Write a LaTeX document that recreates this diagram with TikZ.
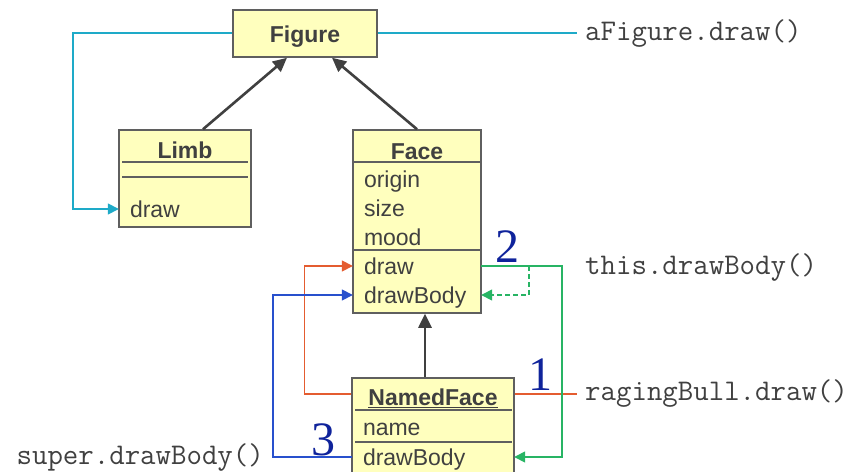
\documentclass[tikz,border=0pt]{standalone}
\usepackage{fontspec}
\setmainfont{Liberation Sans}
\newfontfamily\numf{Liberation Serif}
\usetikzlibrary{arrows.meta,calc}
\definecolor{boxfill}{RGB}{255,255,190}
\definecolor{boxline}{RGB}{95,95,95}
\definecolor{txt}{RGB}{64,64,64}
\definecolor{ccyan}{RGB}{30,170,200}
\definecolor{corange}{RGB}{228,92,48}
\definecolor{cgreen}{RGB}{40,180,100}
\definecolor{cblue}{RGB}{40,80,205}
\definecolor{numblue}{RGB}{15,35,155}
\tikzset{
  box/.style={draw=boxline, fill=boxfill, line width=1.5pt, inner sep=0pt},
  ttl/.style={font=\fontsize{23}{27}\selectfont\bfseries, text=txt, inner sep=0pt, text height=16.5pt, text depth=0pt},
  fld/.style={font=\fontsize{23}{27}\selectfont, text=txt, inner xsep=11pt, inner ysep=0pt, text height=16.5pt, text depth=0pt, align=left},
  sepline/.style={draw=boxline, line width=1.4pt},
  code/.style={font=\ttfamily\fontsize{30}{34}\selectfont, text=txt, inner sep=0pt, text height=15pt, text depth=0pt},
  num/.style={font=\numf\fontsize{48}{52}\selectfont, text=numblue, inner sep=0pt},
  inh/.style={draw=txt, line width=2.6pt, -{Triangle[length=14pt,width=13pt]}},
  call/.style={line width=1.5pt, -{Triangle[length=11pt,width=11pt]}},
}
\begin{document}
\begin{tikzpicture}[x=1pt,y=-1pt]
\useasboundingbox (0,0) rectangle (856,471);
% boxes
\node[box, minimum width=144pt, minimum height=47pt] (figure) at (305,33.5) {};
\node[ttl] (figuret) at (305,34.5) {Figure};
\node[box, minimum width=132pt, minimum height=97pt] (limb) at (185,178.5) {};
\node[box, minimum width=128pt, minimum height=183pt] (face) at (417,221.5) {};
\node[box, minimum width=162pt, minimum height=112pt] (nface) at (433,434) {};
% Limb
\node[ttl] (limbt) at (185,150.5) {Limb};
\draw[sepline] (122,162) -- (248,162);
\draw[sepline] (122,177) -- (248,177);
\node[fld, text width=110pt] (limbdraw) at (185,209) {draw};
% Face
\node[ttl] (facet) at (417,151) {Face};
\draw[sepline] (face.west |- 0,162) -- (face.east |- 0,162);
\node[fld, text width=106pt] (faceorigin) at (417,179.5) {origin};
\node[fld, text width=106pt] (facesize) at (417,208.5) {size};
\node[fld, text width=106pt] (facemood) at (417,237.5) {mood};
\draw[sepline] (face.west |- 0,250) -- (face.east |- 0,250);
\node[fld, text width=106pt] (facedraw) at (417,266) {draw};
\node[fld, text width=106pt] (facebody) at (417,295) {drawBody};
% NamedFace
\node[fld, text width=140pt, align=center, font=\fontsize{23}{27}\selectfont\bfseries] (nftitle) at (433,397.5) {\underline{NamedFace}};
\draw[sepline] (355,410) -- (512,410);
\node[fld, text width=140pt] (nfname) at (433,427) {name};
\draw[sepline] (355,442) -- (512,442);
\node[fld, text width=140pt] (nfbody) at (433,457) {drawBody};
% inheritance
\draw[inh] ($(limb.north)+(18,0)$) -- ($(figure.south)+(-18,0)$);
\draw[inh] (face.north) -- ($(figure.south)+(27,0)$);
\draw[inh] ($(nface.north)+(-8,0)$) -- ($(face.south)+(8,0)$);
% code labels
\node[code, anchor=west] (lblfig) at (585,33) {aFigure.draw()};
\node[code, anchor=west] (lblthis) at (585,267) {this.drawBody()};
\node[code, anchor=west] (lblbull) at (585,393) {ragingBull.draw()};
\node[code, anchor=east] (lblsuper) at (264,457) {super.drawBody()};
% numbers
\node[num] (n2) at (507,247) {2};
\node[num] (n1) at (540,375) {1};
\node[num] (n3) at (323,440) {3};
% cyan
\coordinate (c1) at (figure.east |- 0,33);
\draw[ccyan, line width=1.5pt] (c1) -- ($(c1 -| lblfig.west)+(-8,0)$);
\draw[call, ccyan] (figure.west |- c1) -| ($(limbdraw.west)+(-46,0)$) -- (limbdraw.west);
% orange
\coordinate (o1) at (nface.east |- 0,394);
\draw[corange, line width=1.5pt] (o1) -- ($(o1 -| lblbull.west)+(-8,0)$);
\draw[call, corange] (nface.west |- o1) -- ++(-47,0) |- (facedraw.west);
% green
\draw[call, cgreen] (facedraw.east) -- ++(81,0) |- (nfbody.east);
\coordinate (g2) at ($(facedraw.east)+(48,0)$);
\draw[call, cgreen, dashed, dash pattern=on 5pt off 3pt] (g2) |- (facebody.east);
% blue
\draw[call, cblue] (nfbody.west) -- ++(-79,0) |- (facebody.west);
\end{tikzpicture}
\end{document}
